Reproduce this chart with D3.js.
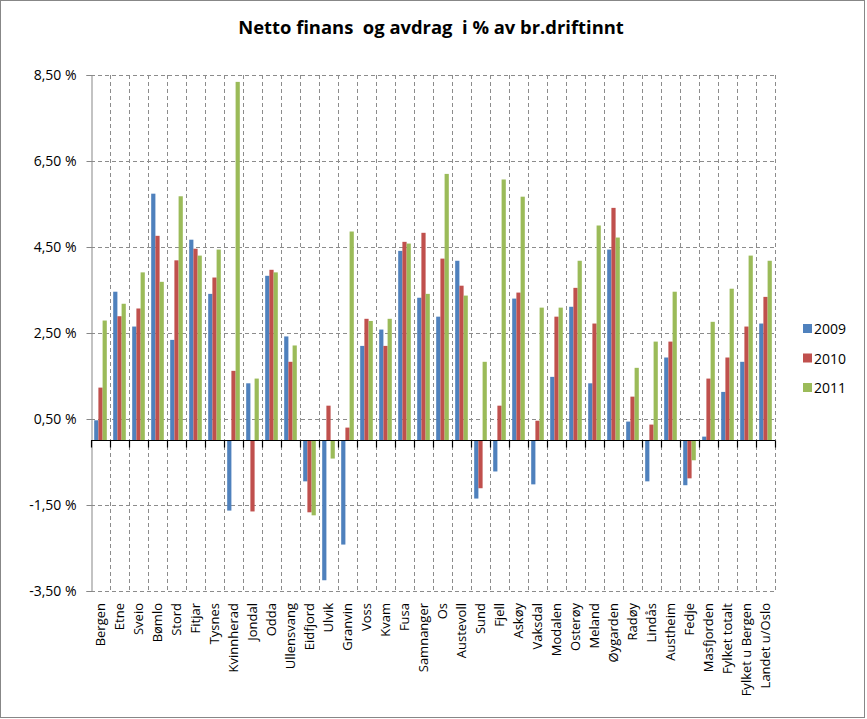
<!DOCTYPE html>
<html><head><meta charset="utf-8">
<script src="https://cdn.jsdelivr.net/npm/d3@7"></script>
<style>body{margin:0;background:#fff;} svg{display:block;font-family:"Open Sans",sans-serif;}</style>
</head><body>
<svg id="c" width="867" height="719"></svg>
<script>
const categories = ["Bergen","Etne","Sveio","Bømlo","Stord","Fitjar","Tysnes","Kvinnherad","Jondal","Odda","Ullensvang","Eidfjord","Ulvik","Granvin","Voss","Kvam","Fusa","Samnanger","Os","Austevoll","Sund","Fjell","Askøy","Vaksdal","Modalen","Osterøy","Meland","Øygarden","Radøy","Lindås","Austheim","Fedje","Masfjorden","Fylket totalt","Fylket u Bergen","Landet u/Oslo"];
const years = ["2009","2010","2011"];
const v2009 = [0.47,3.46,2.65,5.74,2.34,4.67,3.41,-1.63,1.33,3.83,2.42,-0.95,-3.25,-2.42,2.20,2.58,4.41,3.32,2.88,4.18,-1.35,-0.72,3.30,-1.02,1.48,3.11,1.33,4.44,0.44,-0.95,1.93,-1.04,0.09,1.13,1.83,2.72];
const v2010 = [1.23,2.89,3.07,4.76,4.19,4.46,3.79,1.62,-1.65,3.97,1.83,-1.67,0.81,0.30,2.83,2.20,4.62,4.83,4.23,3.60,-1.11,0.81,3.44,0.46,2.88,3.55,2.72,5.41,1.02,0.37,2.30,-0.88,1.44,1.93,2.65,3.34];
const v2011 = [2.79,3.18,3.91,3.69,5.68,4.30,4.44,8.34,1.44,3.91,2.21,-1.74,-0.42,4.86,2.78,2.83,4.58,3.41,6.20,3.37,1.83,6.07,5.67,3.09,3.09,4.18,5.00,4.72,1.69,2.30,3.46,-0.46,2.76,3.53,4.30,4.18];
const yTicks = [-3.5,-1.5,0.5,2.5,4.5,6.5,8.5];
const colors = ["#4F81BD","#C0504D","#9BBB59"];
const title = "Netto finans  og avdrag  i % av br.driftinnt";

const series = [v2009, v2010, v2011];
const svg = d3.select("#c");
const grid = "#8c8c8c";

svg.append("rect").attr("x",0.5).attr("y",0.5).attr("width",864).attr("height",717)
  .attr("fill","#fff").attr("stroke","#878787");

svg.append("text").attr("x",431).attr("y",34).attr("text-anchor","middle")
  .style("font-size","18.4px").style("font-weight","bold").style("white-space","pre")
  .attr("xml:space","preserve").text(title);

const x = d3.scaleBand().domain(categories).range([91,775]).padding(0);
const x1 = d3.scaleBand().domain(years).range([0,x.bandwidth()]).paddingInner(0).paddingOuter(0.76);
const y = d3.scaleLinear().domain([-3.5,8.5]).range([591,75]);

const loc = d3.formatLocale({decimal:",",thousands:" ",grouping:[3],currency:["",""],minus:"-"});
const fmt = v => loc.format(".2f")(v) + " %";

// horizontal gridlines
svg.append("g").selectAll("line").data(yTicks).join("line")
  .attr("x1",91).attr("x2",775).attr("y1",d=>Math.round(y(d))+0.5).attr("y2",d=>Math.round(y(d))+0.5)
  .attr("stroke",grid).attr("stroke-dasharray","4,3");
// vertical gridlines
const bounds = categories.map(c=>x(c)+x.bandwidth());
svg.append("g").selectAll("line").data(bounds).join("line")
  .attr("x1",d=>Math.round(d)+0.5).attr("x2",d=>Math.round(d)+0.5).attr("y1",75).attr("y2",591)
  .attr("stroke",grid).attr("stroke-dasharray","4,3");

// bars
const g = svg.append("g");
years.forEach((yr,si)=>{
  g.selectAll(".b"+si).data(categories).join("rect")
    .attr("x",c=>x(c)+x1(yr)).attr("width",x1.bandwidth())
    .attr("y",(c,i)=>y(Math.max(0,series[si][i])))
    .attr("height",(c,i)=>Math.abs(y(series[si][i])-y(0)))
    .attr("fill",colors[si]);
});

// y axis
const ya = svg.append("g").attr("transform","translate(91.5,0)")
  .call(d3.axisLeft(y).tickValues(yTicks).tickFormat(fmt).tickSize(5).tickPadding(10));
ya.select(".domain").attr("stroke","#878787");
ya.selectAll(".tick line").attr("stroke","#878787");
ya.selectAll("text").style("font-size","14px").style("font-family","Open Sans").attr("fill","#000");

// zero axis
const z = Math.round(y(0))+0.5;
svg.append("line").attr("x1",91).attr("x2",775).attr("y1",z).attr("y2",z).attr("stroke","#000").attr("stroke-width",1.2);
svg.append("g").selectAll("line").data([x(categories[0])].concat(bounds)).join("line")
  .attr("x1",d=>Math.round(d)+0.5).attr("x2",d=>Math.round(d)+0.5).attr("y1",z).attr("y2",z+7)
  .attr("stroke","#000").attr("stroke-width",1.2);

// x labels
svg.append("g").selectAll("text").data(categories).join("text")
  .attr("transform",c=>`translate(${x(c)+x.bandwidth()/2+4.5},603) rotate(-90)`)
  .attr("text-anchor","end").style("font-size","13px").attr("fill","#000").text(c=>c);

// legend
const lg = svg.append("g");
years.forEach((yr,i)=>{
  const cy = 329 + i*29.5;
  lg.append("rect").attr("x",803).attr("y",cy-5).attr("width",9).attr("height",9).attr("fill",colors[i]);
  lg.append("text").attr("x",814).attr("y",cy+5).style("font-size","14px").attr("fill","#000").text(yr);
});
</script>
</body></html>
